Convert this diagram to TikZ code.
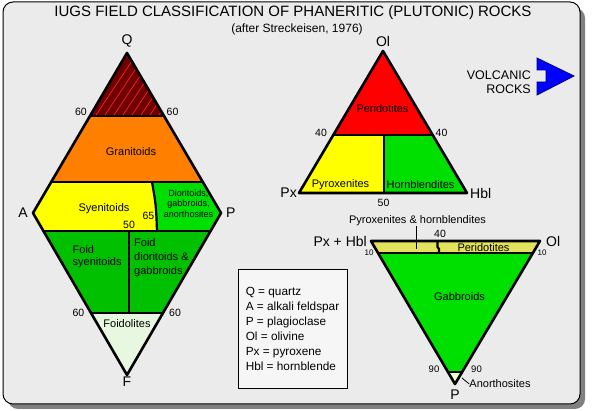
\documentclass[tikz,border=0pt]{standalone}
\usepackage{fontspec}
\setmainfont{Liberation Sans}
\definecolor{panelgray}{RGB}{235,235,235}
\definecolor{shadowgray}{RGB}{128,128,128}
\definecolor{quartzred}{RGB}{112,0,0}
\definecolor{stripered}{RGB}{255,40,40}
\definecolor{granorange}{RGB}{255,128,0}
\definecolor{syenyellow}{RGB}{255,255,0}
\definecolor{dioritgreen}{RGB}{0,224,0}
\definecolor{foidgreen}{RGB}{0,192,0}
\definecolor{foidolpale}{RGB}{232,248,224}
\definecolor{peridred}{RGB}{255,0,0}
\definecolor{bandyellow}{RGB}{226,226,92}
\definecolor{anorthpale}{RGB}{240,255,208}
\definecolor{legendgray}{RGB}{246,246,246}
\definecolor{volcblue}{RGB}{0,0,255}
\usetikzlibrary{positioning}
\tikzset{
	outline/.style={
		draw=black,
		line width=2.6pt,
		line join=round
	},
	divider/.style={
		draw=black,
		line width=2.2pt
	},
	leader/.style={
		draw=black,
		line width=0.8pt
	},
	titlelbl/.style={
		inner sep=0pt,
		font=\fontsize{15}{15}\selectfont
	},
	vertexlbl/.style={
		inner sep=0pt,
		font=\fontsize{14}{14}\selectfont
	},
	rocklbl/.style={
		inner sep=0pt,
		font=\fontsize{11}{14}\selectfont
	},
	smallrock/.style={
		inner sep=0pt,
		align=center,
		font=\fontsize{9}{10.5}\selectfont
	},
	numlbl/.style={
		inner sep=0pt,
		font=\fontsize{10.5}{10.5}\selectfont
	},
	tinynum/.style={
		inner sep=0pt,
		font=\fontsize{8}{8}\selectfont
	},
	legendbox/.style={
		draw=black,
		line width=0.8pt,
		fill=legendgray,
		align=left,
		minimum width=109pt,
		minimum height=119pt,
		font=\fontsize{11.8}{15}\selectfont
	},
}

\begin{document}
\begin{tikzpicture}[x=1pt,y=-1pt]
\useasboundingbox (0,0) rectangle (597,411);
\fill[shadowgray,rounded corners=10pt] (8,8) rectangle (585,409);
\filldraw[fill=panelgray,draw=black,line width=1pt,rounded corners=10pt] (3,2) rectangle (580,404);

\node [titlelbl] (title) at (293,13) {IUGS FIELD CLASSIFICATION OF PHANERITIC (PLUTONIC) ROCKS};
\node [rocklbl,font=\fontsize{12}{12}\selectfont] (subtitle) at (297,29) {(after Streckeisen, 1976)};

% QAPF diamond
\coordinate (Q) at (127,53);
\coordinate (A) at (33,213);
\coordinate (P) at (221,213);
\coordinate (F) at (127,375);

\fill[quartzred] (Q) -- (164,116) -- (90,116) -- cycle;
\begin{scope}
\clip (Q) -- (164,116) -- (90,116) -- cycle;
\foreach \s in {40,49,...,166}
	\draw[stripered,line width=0.6pt] (\s,118) -- ++(44,-66);
\end{scope}
\fill[granorange] (90,116) -- (164,116) -- (202.8,182) -- (51.2,182) -- cycle;
\fill[syenyellow] (51.2,182) -- (152,182) .. controls (156,205) .. (157,231) -- (43.4,231) -- (A) -- cycle;
\fill[dioritgreen] (152,182) -- (202.8,182) -- (P) -- (210.6,231) -- (157,231) .. controls (156,205) .. (152,182) -- cycle;
\fill[foidgreen] (43.4,231) -- (210.6,231) -- (163,313) -- (91,313) -- cycle;
\fill[foidolpale] (91,313) -- (163,313) -- (F) -- cycle;

\draw[divider] (90,116) -- (164,116);
\draw[divider] (51.2,182) -- (202.8,182);
\draw[divider] (43.4,231) -- (210.6,231);
\draw[divider] (91,313) -- (163,313);
\draw[divider] (152,182) .. controls (156,205) .. (157,231);
\draw[divider] (129,231) -- (129,313);
\draw[outline] (Q) -- (P) -- (F) -- (A) -- cycle;

\node [vertexlbl] (Qlbl) [above=6pt of Q] {Q};
\node [vertexlbl] (Albl) [left=5pt of A] {A};
\node [vertexlbl] (Plbl) [right=5pt of P] {P};
\node [vertexlbl] (Flbl) [below=2pt of F] {F};

\node [numlbl] (q60l) at (81,112) {60};
\node [numlbl] (q60r) at (172.5,112) {60};
\node [rocklbl] (gran) at (131,152) {Granitoids};
\node [rocklbl] (syen) at (104,209) {Syenitoids};
\node [numlbl] (n65) at (148.5,216) {65};
\node [numlbl] (n50) at (129,224.5) {50};
\node [smallrock] (diorit) at (188.5,203.5) {Dioritoids,\\gabbroids,\\anorthosites};
\node [rocklbl,align=left,anchor=west,font=\fontsize{11}{12}\selectfont] (fsyen) at (72.5,257) {Foid\\syenitoids};
\node [rocklbl,align=left,anchor=west] (fdior) at (134,257.5) {Foid\\dioritoids \&\\gabbroids};
\node [numlbl] (f60l) at (78.5,313) {60};
\node [numlbl] (f60r) at (175,313) {60};
\node [rocklbl] (foidol) at (127,324) {Foidolites};

% Ol-Px-Hbl triangle
\coordinate (Ol) at (383,51);
\coordinate (Px) at (299,193);
\coordinate (Hbl) at (467,193);

\fill[peridred] (Ol) -- (433,135) -- (333,135) -- cycle;
\fill[syenyellow] (333,135) -- (384,135) -- (384,193) -- (Px) -- cycle;
\fill[dioritgreen] (384,135) -- (433,135) -- (Hbl) -- (384,193) -- cycle;
\draw[divider] (333,135) -- (433,135);
\draw[divider] (384,135) -- (384,193);
\draw[outline] (Ol) -- (Hbl) -- (Px) -- cycle;

\node [vertexlbl] (Ollbl) [above=4pt of Ol] {Ol};
\node [vertexlbl] (Pxlbl) [left=2pt of Px] {Px};
\node [vertexlbl] (Hbllbl) [right=3pt of Hbl] {Hbl};
\node [rocklbl] (perid) at (382.5,109) {Peridotites};
\node [numlbl] (o40l) at (321,133) {40};
\node [numlbl] (o40r) at (441.5,133) {40};
\node [rocklbl] (pyrox) at (340.5,185) {Pyroxenites};
\node [rocklbl] (hornb) at (420.5,185) {Hornblendites};
\node [numlbl] (o50) at (383.5,203) {50};

% Pl-Px+Hbl-Ol triangle
\coordinate (PH) at (371,241);
\coordinate (Ol2) at (540,241);
\coordinate (P2) at (455,384);

\fill[bandyellow] (PH) -- (Ol2) -- (532.9,253) -- (378,253) -- cycle;
\fill[dioritgreen] (378,253) -- (532.9,253) -- (462.1,372) -- (447.9,372) -- cycle;
\fill[anorthpale] (447.9,372) -- (462.1,372) -- (P2) -- cycle;
\draw[divider] (378,253) -- (532.9,253);
\draw[divider] (447.9,372) -- (462.1,372);
\draw[divider] (437.5,241) -- (437.5,247) -- (439,249) -- (439,253);
\draw[outline] (PH) -- (Ol2) -- (P2) -- cycle;

\node [vertexlbl] (PHlbl) [left=4pt of PH] {Px + Hbl};
\node [vertexlbl] (Ol2lbl) [right=6pt of Ol2] {Ol};
\node [vertexlbl] (P2lbl) [below=6pt of P2] {P};
\node [rocklbl] (pxhb) at (417.5,220.7) {Pyroxenites \& hornblendites};
\coordinate (pxend) at (416,249);
\draw[leader] (pxhb.south -| pxend) -- (pxend);
\node [numlbl] (b40) at (440,234) {40};
\node [rocklbl] (perid2) at (483.5,248) {Peridotites};
\node [tinynum] (b10l) at (369,253) {10};
\node [tinynum] (b10r) at (542,253) {10};
\node [rocklbl] (gabbro) at (459.5,297) {Gabbroids};
\node [numlbl,font=\fontsize{9.5}{9.5}\selectfont] (b90l) at (434,369) {90};
\node [numlbl,font=\fontsize{9.5}{9.5}\selectfont] (b90r) at (476.5,369) {90};
\node [rocklbl] (anorth) at (500,384) {Anorthosites};
\coordinate (anorpt) at (462,378);
\draw[leader] (anorth.west) -- (anorpt);

% legend
\node [legendbox] (legend) at (292.5,328.5) {Q = quartz\\A = alkali feldspar\\P = plagioclase\\Ol = olivine\\Px = pyroxene\\Hbl = hornblende};

% volcanic pointer
\node [rocklbl,align=right,anchor=east,font=\fontsize{12.5}{14}\selectfont] (volc) at (531,82) {VOLCANIC\\ROCKS};
\filldraw[fill=volcblue,draw=blue!50!black,line width=0.8pt] (537,58) -- (574,76) -- (537,95) -- (537,82) -- (546,82) -- (546,70) -- (537,70) -- cycle;
\end{tikzpicture}
\end{document}
